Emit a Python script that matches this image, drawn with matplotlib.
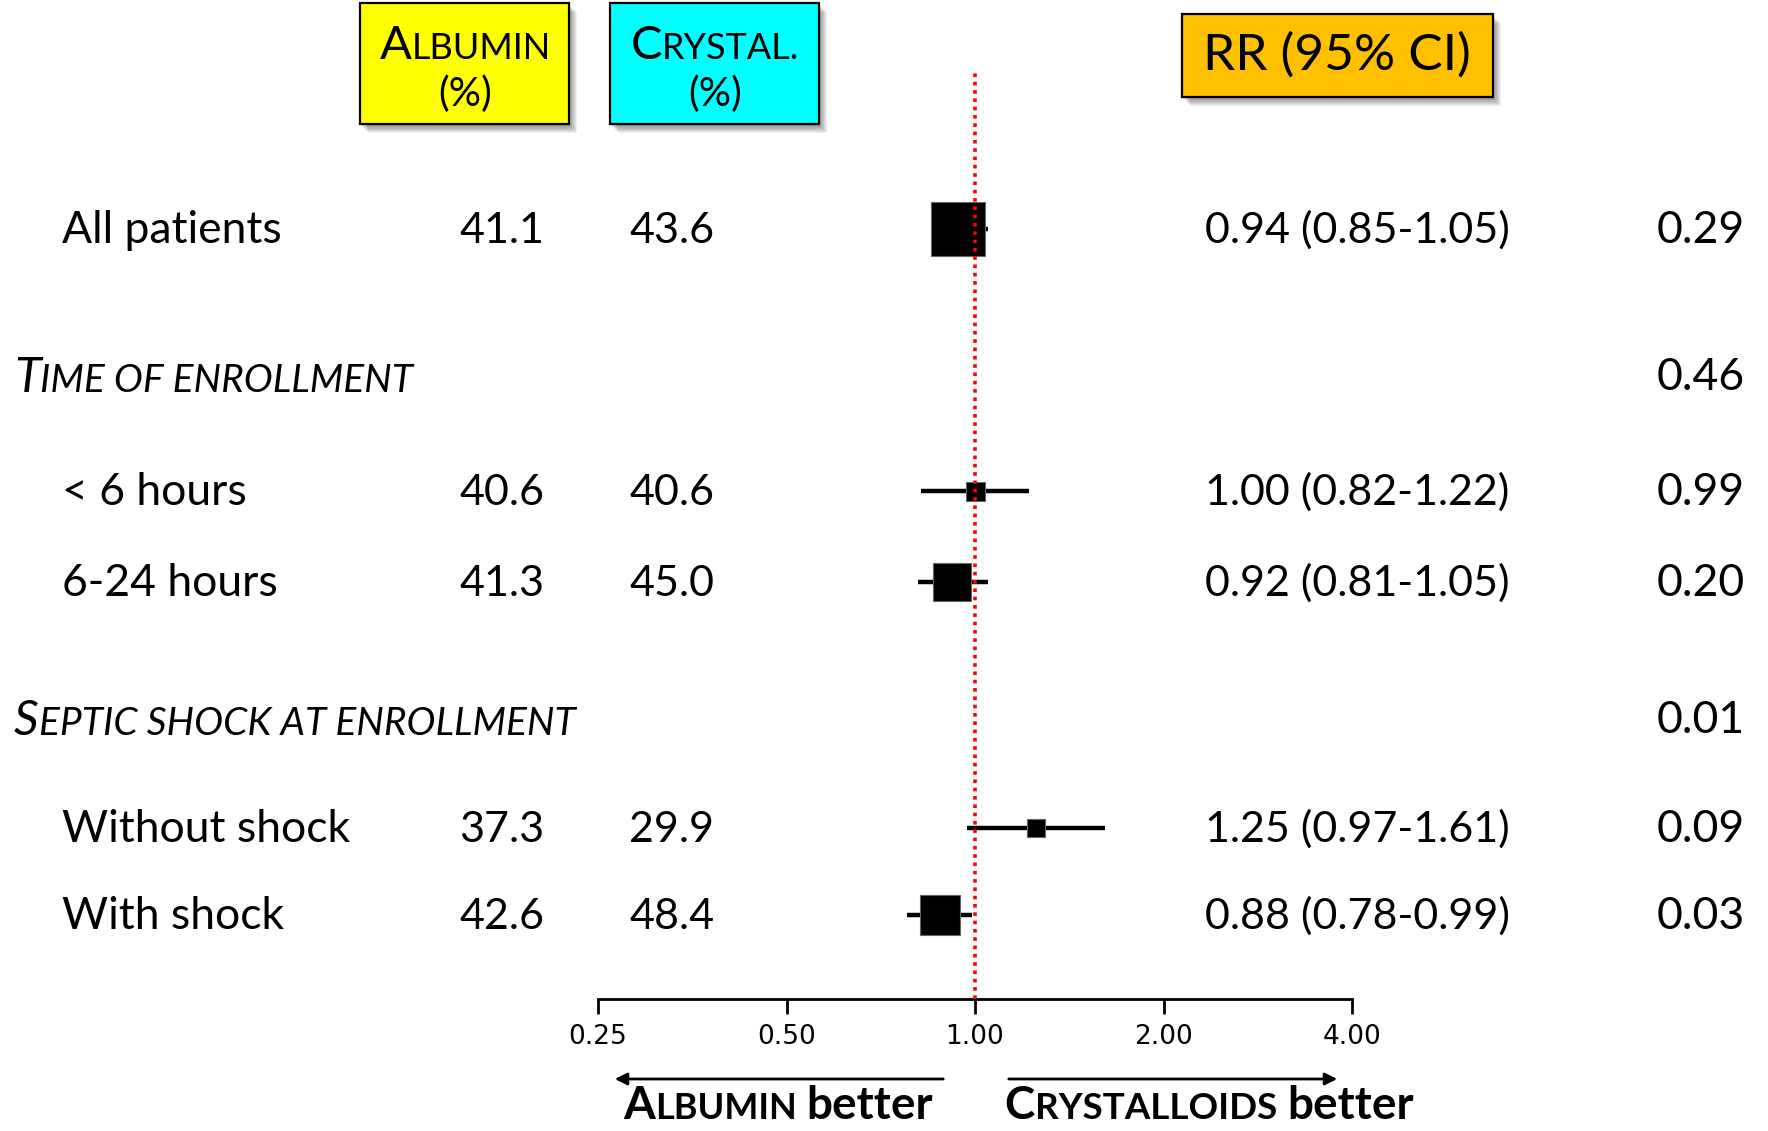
import matplotlib
matplotlib.use("Agg")
import matplotlib.pyplot as plt
from matplotlib.patches import Rectangle
from matplotlib.ticker import NullLocator

plt.rcParams["font.family"] = ["Lato", "DejaVu Sans"]

# ---------------------------------------------------------------
# data
# ---------------------------------------------------------------
row_labels = ["All patients", "< 6 hours", "6-24 hours", "Without shock", "With shock"]
albumin_pct = [41.1, 40.6, 41.3, 37.3, 42.6]
crystal_pct = [43.6, 40.6, 45.0, 29.9, 48.4]
rr = [0.94, 1.00, 0.92, 1.25, 0.88]
rr_lo = [0.85, 0.82, 0.81, 0.97, 0.78]
rr_hi = [1.05, 1.22, 1.05, 1.61, 0.99]
p_values = ["0.29", "0.99", "0.20", "0.09", "0.03"]

group_titles = [("T", "IME OF ENROLLMENT"), ("S", "EPTIC SHOCK AT ENROLLMENT")]
group_p = ["0.46", "0.01"]

x_ticks = [0.25, 0.5, 1.0, 2.0, 4.0]
x_ticklabels = ["0.25", "0.50", "1.00", "2.00", "4.00"]

# ---------------------------------------------------------------
# layout (pixels)
# ---------------------------------------------------------------
W, H = 1768, 1131
row_y = [229, 491, 582, 828, 915]
group_y = [375, 718]
box_px = [54, 19, 38, 18, 40]          # square side ~ study weight

fig = plt.figure(figsize=(W / 100, H / 100), dpi=100)
bg = fig.add_axes([0, 0, 1, 1])
bg.set_xlim(0, W)
bg.set_ylim(H, 0)
bg.axis("off")

# forest panel on a log2 scale
X0, X1, Y0, Y1 = 598, 1352, 70, 999
fx = fig.add_axes([X0 / W, 1 - Y1 / H, (X1 - X0) / W, (Y1 - Y0) / H])
fx.set_xscale("log", base=2)
fx.set_xlim(0.25, 4)
fx.set_ylim(Y1, Y0)
fx.patch.set_visible(False)
for s in ["top", "right", "left"]:
    fx.spines[s].set_visible(False)
fx.spines["bottom"].set_linewidth(2)
fx.set_yticks([])
fx.set_xticks(x_ticks)
fx.set_xticklabels(x_ticklabels, family=["Liberation Sans Narrow", "DejaVu Sans"])
fx.xaxis.set_minor_locator(NullLocator())
fx.tick_params(axis="x", direction="out", length=11, width=2, pad=7, labelsize=19)

for y, m, lo, hi, sz in zip(row_y, rr, rr_lo, rr_hi, box_px):
    fx.hlines(y, lo, hi, color="black", lw=3.2, zorder=2)
    fx.plot([m], [y], "s", ms=sz * 0.72, color="black", mec="#666666", mew=0.8, zorder=3)
fx.axvline(1.0, color="red", ls=(0, (1, 1.3)), lw=2.6, zorder=4)

r = fig.canvas.get_renderer()


def mixed_text(x, y, parts, ha="left", **kw):
    """Place runs of text of different sizes on one baseline (small caps)."""
    items = []
    for s, size, gap in parts:
        t = bg.text(0, y, s, fontsize=size, va="baseline", ha="left", **kw)
        items.append((t, gap, t.get_window_extent(r).width))
    total = sum(g + w for _, g, w in items)
    cx = x - total / 2 if ha == "center" else x
    for t, g, w in items:
        cx += g
        t.set_x(cx)
        cx += w


def header_box(x0, y0, x1, y1, color):
    for k in range(1, 9):
        bg.add_patch(Rectangle((x0 + k, y0 + k + 1), x1 - x0, y1 - y0,
                               facecolor="black", edgecolor="none", alpha=0.06, zorder=1))
    bg.add_patch(Rectangle((x0, y0), x1 - x0, y1 - y0, facecolor=color,
                           edgecolor="black", lw=1.6, zorder=2))


# column headers
header_box(360, 3, 569, 124, "#FFFF00")
header_box(610, 3, 819, 124, "#00FFFF")
header_box(1182, 14, 1493, 97, "#FFC000")
mixed_text(465, 59, [("A", 34, 0), ("LBUMIN", 26, 0)], ha="center", zorder=3)
bg.text(465, 94, "(%)", fontsize=29, ha="center", va="center", zorder=3)
mixed_text(715, 59, [("C", 34, 0), ("RYSTAL.", 26, 0)], ha="center", zorder=3)
bg.text(715, 94, "(%)", fontsize=29, ha="center", va="center", zorder=3)
bg.text(1337, 55, "RR (95% CI)", fontsize=37, ha="center", va="center", zorder=3)

# rows
for y, lab, a, c, m, lo, hi, p in zip(row_y, row_labels, albumin_pct, crystal_pct,
                                      rr, rr_lo, rr_hi, p_values):
    base = y + 14
    bg.text(62, base, lab, fontsize=32, va="baseline")
    bg.text(459, base, f"{a:.1f}", fontsize=31, va="baseline")
    bg.text(629, base, f"{c:.1f}", fontsize=31, va="baseline")
    bg.text(1357, base, f"{m:.2f} ({lo:.2f}-{hi:.2f})", fontsize=31,
            va="baseline", ha="center")
    bg.text(1745, base, p, fontsize=32, va="baseline", ha="right")

for y, (big, small), p in zip(group_y, group_titles, group_p):
    mixed_text(14, y + 17, [(big, 35, 0), (small, 28, 0)], style="italic")
    bg.text(1745, y + 15, p, fontsize=32, va="baseline", ha="right")

# direction arrows and captions
arrow = dict(arrowstyle="-|>", color="black", lw=2, mutation_scale=18)
bg.annotate("", xy=(612, 1079), xytext=(946, 1079), arrowprops=arrow)
bg.annotate("", xy=(1340, 1079), xytext=(1006, 1079), arrowprops=arrow)
mixed_text(778, 1119, [("A", 33, 0), ("LBUMIN", 26, 0), ("better", 33, 10)],
           ha="center", weight="bold")
mixed_text(1209, 1119, [("C", 33, 0), ("RYSTALLOIDS", 26.5, 0), ("better", 33, 10)],
           ha="center", weight="bold")

fig.savefig("out.png", dpi=100)
